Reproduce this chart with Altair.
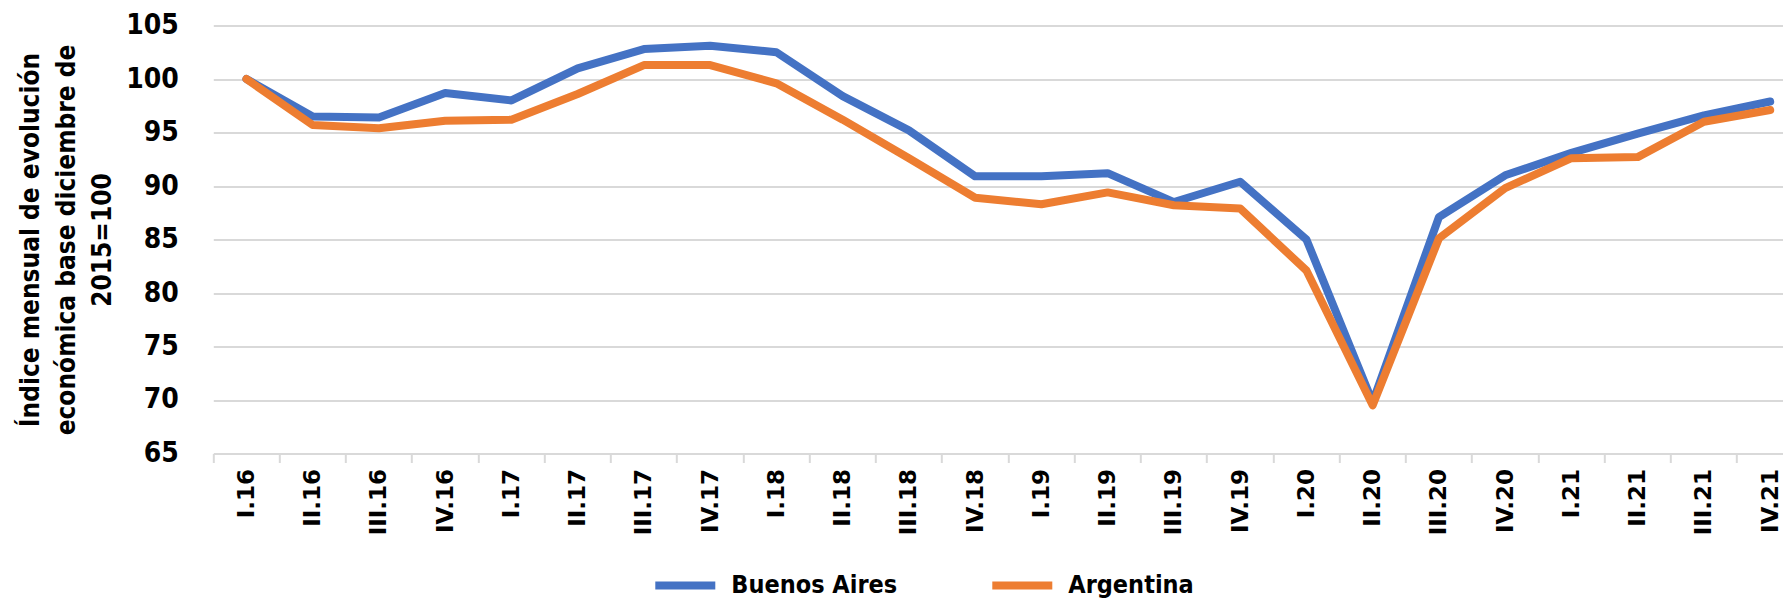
import altair as alt
import pandas as pd

quarters = ["I.16", "II.16", "III.16", "IV.16", "I.17", "II.17", "III.17", "IV.17",
            "I.18", "II.18", "III.18", "IV.18", "I.19", "II.19", "III.19", "IV.19",
            "I.20", "II.20", "III.20", "IV.20", "I.21", "II.21", "III.21", "IV.21"]
buenos_aires = [100.0, 96.5, 96.4, 98.7, 98.0, 101.0, 102.8, 103.1, 102.5, 98.4, 95.2, 90.9,
                90.9, 91.2, 88.5, 90.4, 85.0, 69.8, 87.1, 91.0, 93.1, 94.9, 96.6, 97.9]
argentina = [100.0, 95.7, 95.4, 96.1, 96.2, 98.6, 101.3, 101.3, 99.6, 96.2, 92.6, 88.9,
             88.3, 89.4, 88.2, 87.9, 82.1, 69.5, 85.1, 89.8, 92.6, 92.7, 96.0, 97.1]
series_names = ["Buenos Aires", "Argentina"]
series_colors = ["#4472C4", "#ED7D31"]
y_ticks = [65, 70, 75, 80, 85, 90, 95, 100, 105]
y_title = ["Índice mensual  de evolución", "económica base diciembre de", "2015=100"]

rows = []
for name, vals in zip(series_names, [buenos_aires, argentina]):
    for q, v in zip(quarters, vals):
        rows.append({"quarter": q, "series": name, "value": v})
df = pd.DataFrame(rows)

NARROW = "'Liberation Sans Narrow', 'DejaVu Sans Condensed', sans-serif"
GRID = "#d9d9d9"
STEP = 66.25
W = 1570
H = 428

base = alt.Chart(df)

lines = base.mark_line(strokeWidth=8, strokeCap="round", strokeJoin="round").encode(
    x=alt.X("quarter:N", sort=quarters,
            scale=alt.Scale(type="point", padding=0, range=[STEP / 2, STEP / 2 + 23 * STEP]),
            axis=alt.Axis(orient="bottom", title=None, labelAngle=270, labelAlign="right",
                          labelBaseline="middle",
                          ticks=False, tickSize=0, domain=True, domainColor=GRID, domainWidth=2,
                          grid=False, labelFont="DejaVu Sans", labelFontWeight="bold",
                          labelFontSize=23, labelColor="#000000", labelPadding=15)),
    y=alt.Y("value:Q", scale=alt.Scale(domain=[65, 105], nice=False, zero=False),
            axis=alt.Axis(values=y_ticks, title=y_title, domain=False, ticks=False,
                          grid=True, gridColor=GRID, gridWidth=2,
                          labelFont=NARROW, labelFontWeight="bold", labelFontSize=28,
                          labelColor="#000000", labelPadding=35,
                          titleFont=NARROW, titleFontWeight="bold", titleFontSize=26,
                          titleColor="#000000", titleLineHeight=36, titleAngle=270,
                          titleAlign="center", titleBaseline="top",
                          titleX=-196, titleY=214)),
    color=alt.Color("series:N", sort=series_names,
                    scale=alt.Scale(domain=series_names, range=series_colors),
                    legend=alt.Legend(title=None, orient="none", direction="horizontal",
                                      legendX=438, legendY=526, symbolType="stroke",
                                      symbolStrokeWidth=8, symbolSize=3600,
                                      labelFont=NARROW, labelFontWeight="bold",
                                      labelFontSize=25, labelColor="#000000",
                                      labelLimit=400,
                                      labelOffset=12, columnPadding=79, padding=0)),
)

ticks_layer = base.mark_point(opacity=0).encode(
    x=alt.X("quarter:N", sort=quarters,
            scale=alt.Scale(type="band", paddingInner=0, paddingOuter=0,
                            range=[0, 24 * STEP]),
            axis=alt.Axis(orient="bottom", title=None, labels=False, ticks=True,
                          tickColor=GRID, tickWidth=2, tickSize=9, domain=False,
                          grid=False, bandPosition=0)),
    y=alt.Y("value:Q"),
)

chart = alt.layer(ticks_layer, lines).resolve_scale(x="independent").properties(
    width=W, height=H,
    autosize=alt.AutoSizeParams(type="none"),
    padding={"left": 205.3, "top": 17.5, "right": 0, "bottom": 145},
).configure_view(stroke=None)

chart.save("out.html", embed_options={"renderer": "svg", "actions": False})
